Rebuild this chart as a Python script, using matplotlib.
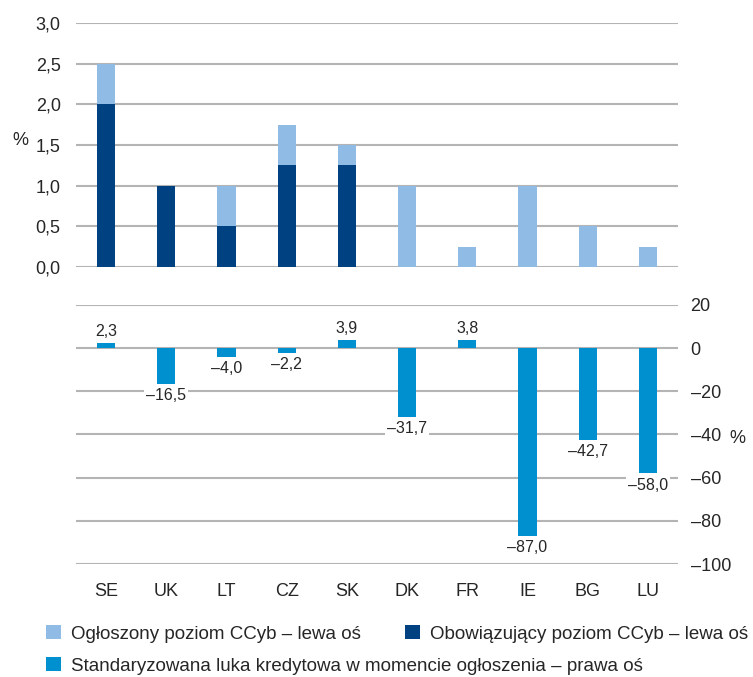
import matplotlib
matplotlib.use('Agg')
from matplotlib import pyplot as plt
from matplotlib.patches import Patch
from matplotlib.ticker import FuncFormatter

plt.rcParams['font.family'] = ['Liberation Sans', 'DejaVu Sans']

countries = ['SE', 'UK', 'LT', 'CZ', 'SK', 'DK', 'FR', 'IE', 'BG', 'LU']
announced = [2.5, 1.0, 1.0, 1.75, 1.5, 1.0, 0.25, 1.0, 0.5, 0.25]
applicable = [2.0, 1.0, 0.5, 1.25, 1.25, 0.0, 0.0, 0.0, 0.0, 0.0]
credit_gap = [2.3, -16.5, -4.0, -2.2, 3.9, -31.7, 3.8, -87.0, -42.7, -58.0]

c_light = '#8fbbe5'
c_dark = '#004181'
c_gap = '#008fcf'
c_grid = '#b4b4b4'
c_text = '#262626'

def fmt(v, pos=None):
    s = f'{v:.1f}'.replace('.', ',')
    return s.replace('-', '\u2013')

fig = plt.figure(figsize=(7.53, 6.77), dpi=100)
ax1 = fig.add_axes([0.1009, 0.6056, 0.7995, 0.3604])
ax2 = fig.add_axes([0.1009, 0.1669, 0.7995, 0.3826])

x = list(range(len(countries)))
w = 0.3

# top panel
ax1.bar(x, announced, width=w, color=c_light, zorder=3)
ax1.bar(x, applicable, width=w, color=c_dark, zorder=3)
ax1.set_ylim(0, 3.0)
ax1.set_yticks([0, 0.5, 1.0, 1.5, 2.0, 2.5, 3.0])
ax1.yaxis.set_major_formatter(FuncFormatter(fmt))
ax1.set_xlim(-0.5, 9.5)
ax1.set_xticks([])
ax1.grid(axis='y', color=c_grid, lw=1.5, zorder=0)
for s in ax1.spines.values():
    s.set_visible(False)
ax1.tick_params(axis='y', length=0, labelsize=13, labelcolor=c_text, pad=11)
ax1.text(-0.093, 0.52, '%', transform=ax1.transAxes, ha='center', va='center',
         fontsize=13, color=c_text)

# bottom panel
ax2.bar(x, credit_gap, width=w, color=c_gap, zorder=3)
ax2.set_ylim(-100, 20)
ax2.set_yticks(range(-100, 21, 20))
ax2.yaxis.set_major_formatter(FuncFormatter(lambda v, p: f'{v:.0f}'.replace('-', '\u2013')))
ax2.yaxis.tick_right()
ax2.set_xlim(-0.5, 9.5)
ax2.set_xticks(x)
ax2.set_xticklabels(countries)
ax2.grid(axis='y', color=c_grid, lw=1.5, zorder=0)
for s in ax2.spines.values():
    s.set_visible(False)
ax2.tick_params(axis='y', length=0, labelsize=13, labelcolor=c_text, pad=9)
ax2.tick_params(axis='x', length=0, labelsize=13, labelcolor=c_text, pad=14)
ax2.text(1.098, 0.486, '%', transform=ax2.transAxes, ha='center', va='center',
         fontsize=13, color=c_text)

for xi, v in zip(x, credit_gap):
    if v >= 0:
        ax2.annotate(fmt(v), (xi, v), xytext=(0, 3), textcoords='offset points',
                     ha='center', va='bottom', fontsize=11.5, color=c_text, zorder=4)
    else:
        ax2.annotate(fmt(v), (xi, v), xytext=(0, -3), textcoords='offset points',
                     ha='center', va='top', fontsize=11.5, color=c_text, zorder=4,
                     bbox=dict(facecolor='white', edgecolor='none', pad=1.5))

# legend
h_ann = Patch(facecolor=c_light, edgecolor='none')
h_app = Patch(facecolor=c_dark, edgecolor='none')
h_gap = Patch(facecolor=c_gap, edgecolor='none')
kw = dict(frameon=False, fontsize=13.5, handlelength=0.8, handleheight=0.75,
          handletextpad=0.53, borderpad=0, borderaxespad=0, labelcolor=c_text,
          loc='center left')
fig.legend([h_ann], ['Ogłoszony poziom CCyb \u2013 lewa oś'],
           bbox_to_anchor=(0.0611, 0.0635), **kw)
fig.legend([h_app], ['Obowiązujący poziom CCyb \u2013 lewa oś'],
           bbox_to_anchor=(0.538, 0.0635), **kw)
fig.legend([h_gap], ['Standaryzowana luka kredytowa w momencie ogłoszenia \u2013 prawa oś'],
           bbox_to_anchor=(0.0611, 0.0165), **kw)

plt.savefig('out.png', dpi=100)
